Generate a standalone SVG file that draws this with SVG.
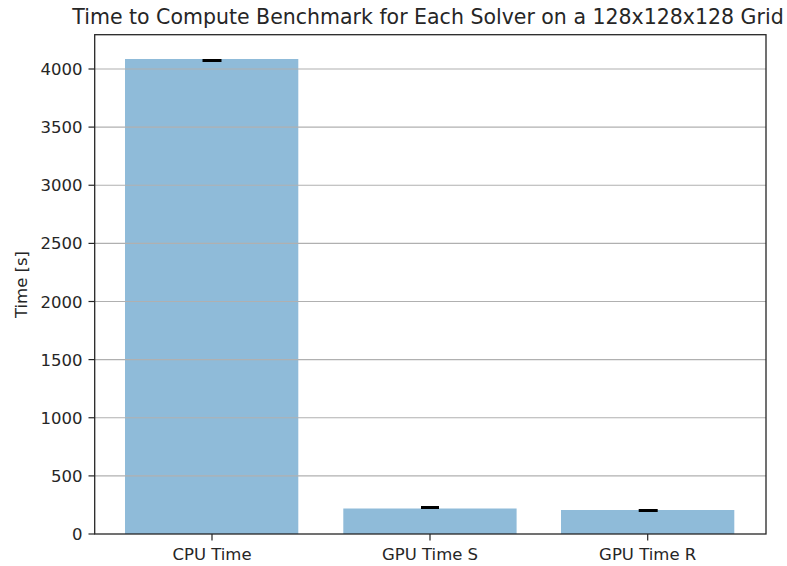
<svg xmlns="http://www.w3.org/2000/svg" width="787" height="566" viewBox="0 0 787 566">
<style>
text{font-family:"DejaVu Sans","Liberation Sans",sans-serif;fill:#262626}
.tick{font-size:16.5px}
.ytl{text-anchor:end}
.xtl{text-anchor:middle}
.grid{stroke:#b0b0b0;stroke-width:1.2}
.tk{stroke:#262626;stroke-width:1.2}
.bar{fill:#8fbbd9}
.cap{stroke:#000;stroke-width:3}
</style>
<rect width="787" height="566" fill="#fff"/>
<g id="bars">
<rect id="bar-cpu" class="bar" x="125" y="59" width="173.3" height="475"/>
<rect id="bar-gpu-s" class="bar" x="343.3" y="508.5" width="173.3" height="25.5"/>
<rect id="bar-gpu-r" class="bar" x="561" y="510" width="173.3" height="24"/>
</g>
<g id="grid">
<line class="grid" x1="94.7" x2="766" y1="475.9" y2="475.9"/>
<line class="grid" x1="94.7" x2="766" y1="417.75" y2="417.75"/>
<line class="grid" x1="94.7" x2="766" y1="359.6" y2="359.6"/>
<line class="grid" x1="94.7" x2="766" y1="301.5" y2="301.5"/>
<line class="grid" x1="94.7" x2="766" y1="243.4" y2="243.4"/>
<line class="grid" x1="94.7" x2="766" y1="185.25" y2="185.25"/>
<line class="grid" x1="94.7" x2="766" y1="127.1" y2="127.1"/>
<line class="grid" x1="94.7" x2="766" y1="69" y2="69"/>
</g>
<g id="errorbars">
<line class="cap" x1="202.5" x2="221.5" y1="60.5" y2="60.5"/>
<line class="cap" x1="421" x2="439" y1="507.5" y2="507.5"/>
<line class="cap" x1="638.7" x2="657.7" y1="510.5" y2="510.5"/>
</g>
<g id="axes">
<rect x="94.7" y="34.7" width="671.3" height="499.3" fill="none" stroke="#262626" stroke-width="1.3"/>
<g id="yticks">
<line class="tk" x1="88.5" x2="94.7" y1="534" y2="534"/>
<line class="tk" x1="88.5" x2="94.7" y1="475.9" y2="475.9"/>
<line class="tk" x1="88.5" x2="94.7" y1="417.75" y2="417.75"/>
<line class="tk" x1="88.5" x2="94.7" y1="359.6" y2="359.6"/>
<line class="tk" x1="88.5" x2="94.7" y1="301.5" y2="301.5"/>
<line class="tk" x1="88.5" x2="94.7" y1="243.4" y2="243.4"/>
<line class="tk" x1="88.5" x2="94.7" y1="185.25" y2="185.25"/>
<line class="tk" x1="88.5" x2="94.7" y1="127.1" y2="127.1"/>
<line class="tk" x1="88.5" x2="94.7" y1="69" y2="69"/>
<text class="tick ytl" x="82.5" y="540">0</text>
<text class="tick ytl" x="82.5" y="481.9">500</text>
<text class="tick ytl" x="82.5" y="423.75">1000</text>
<text class="tick ytl" x="82.5" y="365.6">1500</text>
<text class="tick ytl" x="82.5" y="307.5">2000</text>
<text class="tick ytl" x="82.5" y="249.4">2500</text>
<text class="tick ytl" x="82.5" y="191.25">3000</text>
<text class="tick ytl" x="82.5" y="133.1">3500</text>
<text class="tick ytl" x="82.5" y="75">4000</text>
</g>
<g id="xticks">
<line class="tk" x1="212" x2="212" y1="534" y2="540.5"/>
<line class="tk" x1="430" x2="430" y1="534" y2="540.5"/>
<line class="tk" x1="647.7" x2="647.7" y1="534" y2="540.5"/>
<text class="tick xtl" x="212" y="559.5">CPU Time</text>
<text class="tick xtl" x="430" y="559.5">GPU Time S</text>
<text class="tick xtl" x="647.7" y="559.5">GPU Time R</text>
</g>
<text class="tick" x="0" y="0" text-anchor="middle" transform="translate(26.5 284.5) rotate(-90)">Time [s]</text>
</g>
<text id="title" x="428" y="23.5" text-anchor="middle" style="font-size:20.5px">Time to Compute Benchmark for Each Solver on a 128x128x128 Grid</text>
</svg>
